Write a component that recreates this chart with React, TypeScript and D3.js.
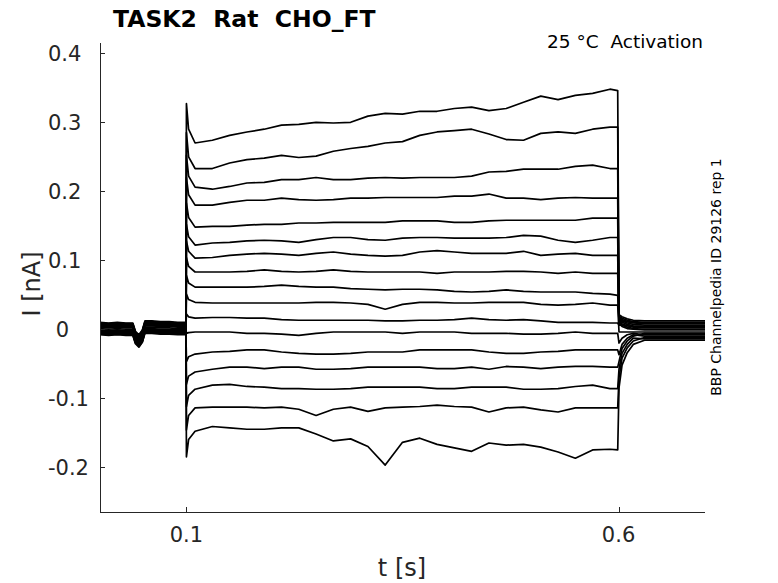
import * as d3 from "d3";

// time grid (s) of the readings during the voltage step
const STEP_TIMES = [
  0.11, 0.13, 0.15, 0.17, 0.19, 0.21, 0.23, 0.25, 0.27, 0.29, 0.31, 0.33, 0.35,
  0.37, 0.39, 0.41, 0.43, 0.45, 0.47, 0.49, 0.51, 0.53, 0.55, 0.57, 0.59, 0.599,
];

// current (nA) of each sweep, top to bottom
const TRACE_01 = [0.270, 0.274, 0.281, 0.286, 0.290, 0.296, 0.297, 0.300, 0.299, 0.300, 0.309, 0.313, 0.312, 0.316, 0.316, 0.320, 0.322, 0.317, 0.320, 0.329, 0.338, 0.333, 0.339, 0.342, 0.348, 0.346];
const TRACE_02 = [0.233, 0.233, 0.241, 0.246, 0.248, 0.252, 0.249, 0.251, 0.258, 0.262, 0.265, 0.270, 0.272, 0.281, 0.286, 0.288, 0.290, 0.283, 0.275, 0.274, 0.284, 0.286, 0.284, 0.290, 0.293, 0.293];
const TRACE_03 = [0.206, 0.203, 0.207, 0.212, 0.213, 0.217, 0.217, 0.220, 0.217, 0.217, 0.219, 0.220, 0.219, 0.220, 0.220, 0.220, 0.222, 0.228, 0.229, 0.232, 0.232, 0.232, 0.236, 0.238, 0.233, 0.233];
const TRACE_04 = [0.180, 0.180, 0.184, 0.187, 0.187, 0.190, 0.188, 0.187, 0.188, 0.190, 0.190, 0.191, 0.191, 0.191, 0.191, 0.193, 0.193, 0.196, 0.190, 0.190, 0.188, 0.190, 0.191, 0.190, 0.190, 0.190];
const TRACE_05 = [0.148, 0.149, 0.149, 0.151, 0.152, 0.152, 0.154, 0.154, 0.155, 0.155, 0.155, 0.155, 0.157, 0.157, 0.157, 0.155, 0.155, 0.157, 0.158, 0.158, 0.158, 0.158, 0.158, 0.161, 0.161, 0.161];
const TRACE_06 = [0.122, 0.125, 0.126, 0.128, 0.129, 0.128, 0.126, 0.130, 0.133, 0.133, 0.130, 0.129, 0.132, 0.133, 0.133, 0.132, 0.132, 0.132, 0.133, 0.136, 0.135, 0.129, 0.126, 0.129, 0.133, 0.133];
const TRACE_07 = [0.103, 0.104, 0.107, 0.109, 0.110, 0.109, 0.107, 0.110, 0.112, 0.109, 0.107, 0.106, 0.107, 0.112, 0.114, 0.112, 0.110, 0.110, 0.110, 0.113, 0.107, 0.109, 0.110, 0.107, 0.107, 0.107];
const TRACE_08 = [0.083, 0.083, 0.083, 0.084, 0.086, 0.084, 0.083, 0.084, 0.086, 0.084, 0.083, 0.083, 0.083, 0.083, 0.081, 0.083, 0.083, 0.083, 0.084, 0.084, 0.083, 0.081, 0.083, 0.081, 0.081, 0.081];
const TRACE_09 = [0.061, 0.061, 0.061, 0.061, 0.062, 0.064, 0.062, 0.061, 0.061, 0.059, 0.058, 0.057, 0.058, 0.058, 0.057, 0.055, 0.054, 0.055, 0.057, 0.055, 0.054, 0.054, 0.054, 0.052, 0.051, 0.049];
const TRACE_10 = [0.039, 0.038, 0.038, 0.038, 0.038, 0.038, 0.038, 0.039, 0.039, 0.038, 0.036, 0.029, 0.036, 0.039, 0.039, 0.038, 0.038, 0.039, 0.039, 0.039, 0.036, 0.035, 0.036, 0.038, 0.035, 0.035];
const TRACE_11 = [0.016, 0.017, 0.017, 0.016, 0.016, 0.014, 0.013, 0.013, 0.013, 0.013, 0.013, 0.012, 0.012, 0.013, 0.013, 0.014, 0.016, 0.014, 0.013, 0.014, 0.012, 0.010, 0.010, 0.010, 0.009, 0.009];
const TRACE_12 = [-0.004, -0.004, -0.004, -0.006, -0.006, -0.007, -0.009, -0.006, -0.004, -0.004, -0.004, -0.004, -0.006, -0.004, -0.004, -0.004, -0.006, -0.006, -0.006, -0.007, -0.007, -0.006, -0.004, -0.006, -0.006, -0.006];
const TRACE_13 = [-0.036, -0.033, -0.032, -0.030, -0.030, -0.033, -0.035, -0.036, -0.036, -0.035, -0.033, -0.033, -0.033, -0.030, -0.030, -0.030, -0.030, -0.033, -0.035, -0.035, -0.033, -0.032, -0.030, -0.030, -0.030, -0.030];
const TRACE_14 = [-0.062, -0.058, -0.055, -0.055, -0.057, -0.055, -0.055, -0.058, -0.058, -0.057, -0.055, -0.055, -0.055, -0.055, -0.057, -0.057, -0.055, -0.058, -0.054, -0.055, -0.057, -0.055, -0.054, -0.054, -0.055, -0.055];
const TRACE_15 = [-0.087, -0.081, -0.080, -0.083, -0.084, -0.086, -0.086, -0.087, -0.087, -0.086, -0.084, -0.084, -0.084, -0.084, -0.086, -0.086, -0.084, -0.084, -0.084, -0.087, -0.087, -0.086, -0.083, -0.081, -0.086, -0.086];
const TRACE_16 = [-0.114, -0.113, -0.113, -0.113, -0.114, -0.113, -0.116, -0.125, -0.116, -0.113, -0.119, -0.114, -0.113, -0.112, -0.110, -0.112, -0.113, -0.120, -0.114, -0.113, -0.117, -0.120, -0.114, -0.114, -0.114, -0.114];
const TRACE_17 = [-0.148, -0.141, -0.143, -0.145, -0.145, -0.143, -0.143, -0.152, -0.162, -0.159, -0.170, -0.197, -0.164, -0.158, -0.167, -0.172, -0.177, -0.165, -0.168, -0.167, -0.171, -0.178, -0.187, -0.175, -0.174, -0.175];

const STEP_TRACES = [
  TRACE_01, TRACE_02, TRACE_03, TRACE_04, TRACE_05, TRACE_06, TRACE_07, TRACE_08, TRACE_09,
  TRACE_10, TRACE_11, TRACE_12, TRACE_13, TRACE_14, TRACE_15, TRACE_16, TRACE_17,
];

// capacitive transient at step onset (t = 0.1 and t = 0.1025)
const SPIKE_PEAK = [0.327, 0.285, 0.252, 0.220, 0.183, 0.152, 0.128, 0.104, 0.078, 0.051, 0.022, -0.006, -0.047, -0.080, -0.112, -0.146, -0.185];
const SPIKE_SETTLE = [0.290, 0.250, 0.222, 0.195, 0.162, 0.134, 0.113, 0.091, 0.067, 0.043, 0.018, -0.005, -0.040, -0.068, -0.096, -0.125, -0.160];

// holding current before the step (shared shape + per-sweep offset)
const HOLD_TIMES = [0, 0.01, 0.02, 0.03, 0.038, 0.041, 0.045, 0.049, 0.052, 0.06, 0.07, 0.08, 0.09, 0.0995];
const HOLD_BASE = [0.001, 0.0, 0.001, 0.0, 0.0, -0.012, -0.017, -0.01, 0.003, 0.003, 0.002, 0.002, 0.001, 0.001];
const HOLD_OFFSET = [0.008, -0.006, 0.004, -0.009, 0.006, -0.002, 0.009, -0.004, 0.002, -0.007, 0.005, 0.0, -0.008, 0.007, -0.003, 0.003, -0.005];

// tail currents after the step
const TAIL_TIMES = [0.6005, 0.604, 0.61, 0.617];
const TAIL_1 = [0.021, 0.019, 0.018, 0.016, 0.014, 0.012, 0.010, 0.008, 0.012, -0.004, 0.006, -0.020, -0.037, -0.047, -0.058, -0.070, -0.085];
const TAIL_2 = [0.018, 0.016, 0.014, 0.012, 0.010, 0.008, 0.006, 0.004, 0.012, -0.004, 0.006, -0.013, -0.022, -0.028, -0.035, -0.042, -0.052];
const TAIL_3 = [0.015, 0.013, 0.011, 0.009, 0.007, 0.005, 0.003, 0.001, 0.011, -0.004, 0.005, -0.008, -0.013, -0.017, -0.022, -0.027, -0.034];
const TAIL_4 = [0.013, 0.011, 0.009, 0.007, 0.005, 0.003, 0.001, 0.000, 0.010, -0.004, 0.004, -0.006, -0.008, -0.010, -0.013, -0.017, -0.022];
const POST_TIMES = [0.63, 0.7];
const POST_LEVEL = [0.012, 0.010, 0.008, 0.006, 0.004, 0.002, 0.000, -0.001, 0.009, -0.004, 0.003, -0.008, -0.010, -0.006, -0.014, -0.012, -0.016];

const TAILS = [TAIL_1, TAIL_2, TAIL_3, TAIL_4];

const X_TICKS = [0.1, 0.6];
const Y_TICKS = [-0.2, -0.1, 0, 0.1, 0.2, 0.3, 0.4];

const W = 778;
const H = 583;
const FONT = "'DejaVu Sans', sans-serif";
const AXIS_COLOR = "#262626";

export default function App() {
  const x = d3.scaleLinear().domain([0, 0.7]).range([100, 705]);
  const y = d3.scaleLinear().domain([-0.265, 0.415]).range([512, 43]);

  const line = d3
    .line<[number, number]>()
    .x((d) => x(d[0]))
    .y((d) => y(d[1]));

  const sweeps = STEP_TRACES.map((trace, i) => {
    const pts: [number, number][] = [];
    HOLD_TIMES.forEach((t, k) => pts.push([t, HOLD_BASE[k] + HOLD_OFFSET[i]]));
    pts.push([0.1, SPIKE_PEAK[i]]);
    pts.push([0.1025, SPIKE_SETTLE[i]]);
    STEP_TIMES.forEach((t, k) => pts.push([t, trace[k]]));
    TAIL_TIMES.forEach((t, k) => pts.push([t, TAILS[k][i]]));
    POST_TIMES.forEach((t) => pts.push([t, POST_LEVEL[i]]));
    return pts;
  });

  const [x0, x1] = x.range();
  const [yb, yt] = y.range();

  return (
    <svg
      width={W}
      height={H}
      style={{ position: "absolute", left: 0, top: 0, background: "#fff" }}
      fontFamily={FONT}
    >
      <rect width={W} height={H} fill="#fff" />

      {/* sweeps */}
      <g fill="none" stroke="#000" strokeWidth={1.7} strokeLinejoin="round">
        {sweeps.map((pts, i) => (
          <path key={i} d={line(pts) ?? ""} />
        ))}
      </g>

      {/* axes */}
      <g stroke={AXIS_COLOR} strokeWidth={1} fill="none" shapeRendering="crispEdges">
        <line x1={x0 + 0.5} x2={x0 + 0.5} y1={yt} y2={yb} />
        <line x1={x0} x2={x1} y1={yb + 0.5} y2={yb + 0.5} />
        {Y_TICKS.map((v) => (
          <line key={v} x1={x0} x2={x0 + 5} y1={Math.round(y(v)) + 0.5} y2={Math.round(y(v)) + 0.5} />
        ))}
        {X_TICKS.map((v) => (
          <line key={v} x1={Math.round(x(v)) + 0.5} x2={Math.round(x(v)) + 0.5} y1={yb} y2={yb - 5} />
        ))}
      </g>

      <g fill={AXIS_COLOR} fontSize={21}>
        {Y_TICKS.map((v) => (
          <text
            key={v}
            x={v === 0 ? 62.5 : 48}
            y={y(v) + 7.6}
            textAnchor={v === 0 ? "middle" : "start"}
          >
            {v === 0 ? "0" : d3.format(".1f")(v).replace("−", "-")}
          </text>
        ))}
        {X_TICKS.map((v) => (
          <text key={v} x={x(v)} y={542} textAnchor="middle">
            {d3.format(".1f")(v)}
          </text>
        ))}
      </g>

      <text x={402} y={576} textAnchor="middle" fontSize={24} fill={AXIS_COLOR}>
        t [s]
      </text>
      <text
        transform="translate(40,284) rotate(-90)"
        textAnchor="middle"
        fontSize={24}
        fill={AXIS_COLOR}
      >
        I [nA]
      </text>

      <text x={113} y={26.5} fontSize={23.5} fontWeight="bold" fill="#000" style={{ whiteSpace: "pre" }}>
        {"TASK2  Rat  CHO_FT"}
      </text>
      <text x={703} y={47.5} textAnchor="end" fontSize={18.5} fill="#000" style={{ whiteSpace: "pre" }}>
        {"25 °C  Activation"}
      </text>
      <text transform="translate(721,277) rotate(-90)" textAnchor="middle" fontSize={14} fill="#000">
        BBP Channelpedia ID 29126 rep 1
      </text>
    </svg>
  );
}
